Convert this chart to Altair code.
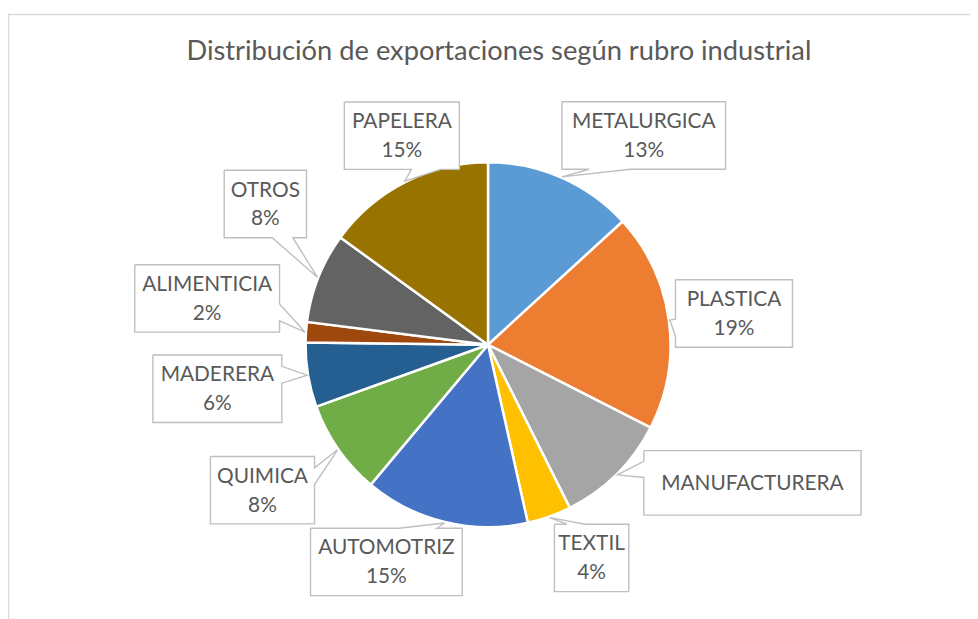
import math
import altair as alt
import pandas as pd

# ---------------- data ----------------
names = ["METALURGICA", "PLASTICA", "MANUFACTURERA", "TEXTIL", "AUTOMOTRIZ",
         "QUIMICA", "MADERERA", "ALIMENTICIA", "OTROS", "PAPELERA"]
values = [13.2, 19.3, 10.1, 3.9, 14.6, 8.4, 5.7, 1.8, 8.0, 15.0]
show_pct = [True, True, False, True, True, True, True, True, True, True]
colors = ["#5B9BD5", "#ED7D31", "#A5A5A5", "#FFC000", "#4472C4",
          "#70AD47", "#255E91", "#9E480E", "#636363", "#997300"]
TITLE = "Distribución de exportaciones según rubro industrial"

# ---------------- layout ----------------
CX, CY, R = 484, 337, 184          # pie centre / radius (chart pixels)
label_shift = [12.9, 0.5, -17.6, -6.3, 11.4, 2.1, 0.3, 5.4, 10.7, 4.6]   # deg from slice mid-angle
label_dist = [263, 250, 300.8, 239, 241.8, 270.6, 276.5, 287, 265.6, 228]
box_w = [165, 118, 219, 75, 153, 105, 130, 146, 83, 116]
BOX_H2, BOX_H1 = 68, 65
LINE_H = 29
TEXT_C = "#595959"
FONT = "Lato"

total = sum(values)
rows, boxes, outline, lines_txt = [], [], [], []
cum = 0.0
for i, (n, v) in enumerate(zip(names, values)):
    a0 = cum / total * 360
    cum += v
    a1 = cum / total * 360
    mid = (a0 + a1) / 2
    tx = CX + (R + 1) * math.sin(math.radians(mid))
    ty = CY - (R + 1) * math.cos(math.radians(mid))
    la = math.radians(mid + label_shift[i])
    lx = CX + label_dist[i] * math.sin(la)
    ly = CY - label_dist[i] * math.cos(la)
    h = BOX_H2 if show_pct[i] else BOX_H1
    w = box_w[i]
    x0, x1, y0, y1 = lx - w / 2, lx + w / 2, ly - h / 2, ly + h / 2
    parts = [n, f"{round(v / total * 100)}%"] if show_pct[i] else [n]
    for k, t in enumerate(parts):
        lines_txt.append(dict(name=n, t=t, cx=lx,
                              cy=ly + 1 + (k - (len(parts) - 1) / 2) * LINE_H))
    rows.append(dict(name=n, value=v, idx=i))
    boxes.append(dict(name=n, x0=x0, x1=x1, y0=y0, y1=y1))

    # rectangular callout outline with wedge pointing at slice
    hc, vc = lx, ly
    dx, dy = tx - hc, ty - vc
    xl = x0 + w * (7 if dx > 0 else 2) / 12
    xr = x0 + w * (10 if dx > 0 else 5) / 12
    yt = y0 + h * (7 if dy > 0 else 2) / 12
    yb = y0 + h * (10 if dy > 0 else 5) / 12
    vertical = abs(dy) - abs(dx) * h / w > 0
    pts = [(x0, y0)]
    if vertical and dy < 0:
        pts += [(xl, y0), (tx, ty), (xr, y0)]
    pts.append((x1, y0))
    if (not vertical) and dx > 0:
        pts += [(x1, yt), (tx, ty), (x1, yb)]
    pts.append((x1, y1))
    if vertical and dy > 0:
        pts += [(xr, y1), (tx, ty), (xl, y1)]
    pts.append((x0, y1))
    if (not vertical) and dx < 0:
        pts += [(x0, yb), (tx, ty), (x0, yt)]
    pts.append((x0, y0))
    for k, (px, py) in enumerate(pts):
        outline.append(dict(name=n, seq=k, px=px, py=py))

df = pd.DataFrame(rows)
dfb = pd.DataFrame(boxes)
dfo = pd.DataFrame(outline)
dft = pd.DataFrame(lines_txt)

border = alt.Chart(pd.DataFrame({"a": [0]})).mark_rect(
    fill="white", stroke="#D9D9D9", strokeWidth=1.5
).encode(x=alt.value(0.5), x2=alt.value(1000), y=alt.value(4), y2=alt.value(700))

pie = alt.Chart(df).mark_arc(outerRadius=R, stroke="white", strokeWidth=2.5).encode(
    theta=alt.Theta("value:Q", stack=True),
    color=alt.Color("name:N", scale=alt.Scale(domain=names, range=colors), legend=None),
    order=alt.Order("idx:Q"),
    x=alt.value(CX), y=alt.value(CY),
)

fill = alt.Chart(dfb).mark_rect(fill="white").encode(
    x=alt.X("x0:Q", scale=None), x2="x1:Q",
    y=alt.Y("y0:Q", scale=None), y2="y1:Q",
)

lines = alt.Chart(dfo).mark_line(color="#BFBFBF", strokeWidth=1.4).encode(
    x=alt.X("px:Q", scale=None), y=alt.Y("py:Q", scale=None),
    detail="name:N", order="seq:Q",
)

text = alt.Chart(dft).mark_text(
    font=FONT, fontSize=21, color=TEXT_C, align="center", baseline="middle",
).encode(x=alt.X("cx:Q", scale=None), y=alt.Y("cy:Q", scale=None), text="t:N")

title = alt.Chart(pd.DataFrame({"t": [TITLE]})).mark_text(
    font=FONT, fontSize=27.5, color=TEXT_C, align="center", baseline="middle",
).encode(x=alt.value(495), y=alt.value(42), text="t:N")

chart = alt.layer(border, pie, fill, lines, text, title).properties(
    width=970, height=611, padding=0, autosize="none"
).configure_view(stroke=None)

chart.save("out.html", embed_options={"renderer": "svg", "actions": False})
